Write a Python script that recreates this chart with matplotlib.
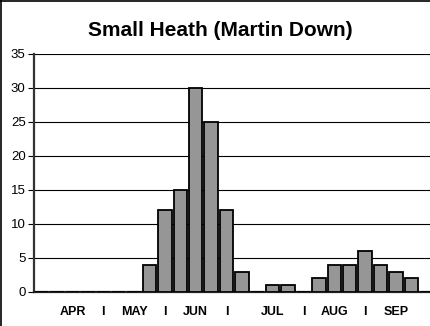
import matplotlib
matplotlib.use("Agg")
import matplotlib.pyplot as plt
from matplotlib.lines import Line2D

plt.rcParams['font.family'] = ['Liberation Sans', 'DejaVu Sans']

title = "Small Heath (Martin Down)"
week_labels = ["", "", "APR", "", "I", "", "MAY", "", "I", "", "JUN", "", "I",
               "", "", "JUL", "", "I", "", "AUG", "", "I", "", "SEP", "", ""]
counts = [0, 0, 0, 0, 0, 0, 0, 4, 12, 15, 30, 25, 12, 3, 0, 1, 1, 0,
          2, 4, 4, 6, 4, 3, 2, 0]
y_ticks = [0, 5, 10, 15, 20, 25, 30, 35]

W, H = 431, 326
fig = plt.figure(figsize=(W / 100, H / 100), dpi=100)
fig.patch.set_facecolor("white")

left, right = 34 / W, 1.0
bottom, top = 1 - 292 / H, 1 - 54 / H
ax = fig.add_axes([left, bottom, right - left, top - bottom])

x = list(range(len(counts)))
ax.bar(x, counts, width=0.88, color="#969696", edgecolor="black",
       linewidth=1.3, zorder=3)

ax.set_xlim(-0.5, 25.28)
ax.set_ylim(0, 35)
ax.set_yticks(y_ticks)
ax.set_yticklabels([str(v) for v in y_ticks], fontsize=9.5)
ax.yaxis.grid(True, color="black", linewidth=0.8, zorder=0)
ax.set_axisbelow(True)

lab_pos = [i for i, s in enumerate(week_labels) if s]
ax.set_xticks(lab_pos)
ax.set_xticklabels([week_labels[i] for i in lab_pos], fontsize=9,
                   fontweight="bold")
ax.tick_params(axis="x", length=0, pad=10)
ax.tick_params(axis="y", length=4, width=0.8, pad=2, direction="out")

for s in ["top", "right"]:
    ax.spines[s].set_visible(False)
ax.spines["left"].set_linewidth(1.6)
ax.spines["left"].set_color("#333333")
ax.spines["bottom"].set_linewidth(1.6)
ax.spines["bottom"].set_color("#222222")

fig.text(220 / W, 1 - 31 / H, title, fontsize=15, fontweight="bold",
         ha="center", va="center")

fig.add_artist(Line2D([0.6 / W, 0.6 / W], [0, 1], color="black",
                      linewidth=1.2, transform=fig.transFigure))
fig.add_artist(Line2D([0, 1], [1 - 0.6 / H, 1 - 0.6 / H], color="black",
                      linewidth=1.2, transform=fig.transFigure))

fig.savefig("out.png", dpi=100)
